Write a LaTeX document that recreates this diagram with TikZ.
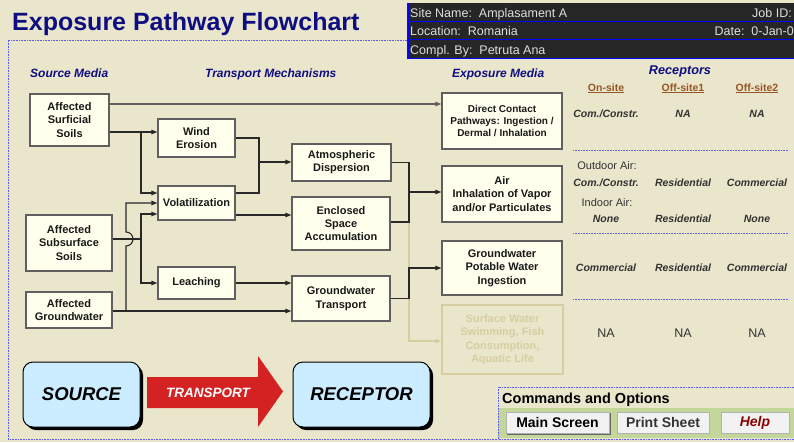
\documentclass[tikz,border=0pt]{standalone}
\usepackage{fontspec}
\setmainfont{Liberation Sans}
\usetikzlibrary{arrows.meta,calc}
\definecolor{bg}{RGB}{234,230,204}
\definecolor{navy}{RGB}{14,14,128}
\definecolor{boxfill}{RGB}{255,255,238}
\definecolor{boxline}{RGB}{95,95,95}
\definecolor{conn}{RGB}{40,40,40}
\definecolor{faint}{RGB}{214,206,160}
\definecolor{brownhd}{RGB}{150,85,35}
\definecolor{rectxt}{RGB}{50,50,50}
\definecolor{dotblue}{RGB}{90,90,255}
\definecolor{hdrdark}{RGB}{38,38,38}
\definecolor{hdrtxt}{RGB}{222,222,222}
\definecolor{lblue}{RGB}{204,236,255}
\definecolor{tred}{RGB}{212,34,34}
\definecolor{cmdgreen}{RGB}{196,215,155}
\definecolor{btnfill}{RGB}{242,242,242}
\definecolor{helpred}{RGB}{140,0,0}
\begin{document}
\begin{tikzpicture}[x=1pt,y=-1pt,
  box/.style={draw=boxline, line width=1.3pt, fill=boxfill, align=center, inner sep=0pt,
    font=\fontsize{11}{13.3}\selectfont\bfseries, text=black!90},
  fbox/.style={draw=faint, line width=1.1pt, align=center, inner sep=0pt,
    font=\fontsize{11}{13.3}\selectfont\bfseries, text=faint},
  ln/.style={draw=conn, line width=1.1pt},
  arr/.style={ln, -{Triangle[length=6pt,width=4.5pt]}},
  farr/.style={draw=faint, line width=1.1pt, -{Triangle[length=6pt,width=4.5pt]}},
  sechd/.style={text=navy, font=\fontsize{12}{14}\selectfont\bfseries\itshape, inner sep=0pt, anchor=base},
  colhd/.style={text=brownhd, font=\fontsize{10.5}{12}\selectfont\bfseries, inner sep=0pt, anchor=base},
  rec/.style={text=rectxt, font=\fontsize{10.5}{12}\selectfont\bfseries\itshape, inner sep=0pt, anchor=base},
  recl/.style={text=rectxt, font=\fontsize{11}{12}\selectfont, inner sep=0pt, anchor=base},
  hdr/.style={text=hdrtxt, font=\fontsize{12.5}{14}\selectfont, inner sep=0pt},
  dotline/.style={draw=dotblue, line width=0.8pt, dash pattern=on 0.8pt off 0.8pt},
  big/.style={draw=black, line width=1pt, fill=lblue, rounded corners=10pt},
  btn/.style={draw=gray!60, line width=0.8pt, fill=btnfill, inner sep=0pt},
]
\useasboundingbox (0,0) rectangle (794,442);
\fill[bg] (0,0) rectangle (794,442);

% frame
\draw[dotline] (407,40) -- (8,40) -- (8,439) -- (498,439);

% title
\node[text=navy, font=\fontsize{25}{28}\selectfont\bfseries, inner sep=0pt, anchor=base west] (title) at (12,30) {Exposure Pathway Flowchart};

% header
\fill[hdrdark] (407,3) rectangle (794,58);
\draw[blue, line width=1pt] (407,21) -- (794,21) (407,39.5) -- (794,39.5) (407,58) -- (794,58) (408,3) -- (408,58);
\node[hdr, anchor=base west] (h1) at (410,17) {Site Name:\ \ Amplasament A};
\node[hdr, anchor=base east] (h1r) at (792,17) {Job ID:};
\node[hdr, anchor=base west] (h2) at (410,35.5) {Location:\ \ Romania};
\node[hdr, anchor=base east] (h2r) at (794,35.5) {Date:\ \ 0-Jan-0};
\node[hdr, anchor=base west] (h3) at (410,54) {Compl. By:\ \ Petruta Ana};

% section headers
\node[sechd, anchor=base west] (s1) at (30,77) {Source Media};
\node[sechd, anchor=base west] (s2) at (205,77) {Transport Mechanisms};
\node[sechd, anchor=base west] (s3) at (452,77) {Exposure Media};
\node[sechd, font=\fontsize{12.7}{14}\selectfont\bfseries\itshape] (s4) at (680,74) {Receptors};

% receptor column headers
\node[colhd] (c1) at (606,91) {\underline{On-site}};
\node[colhd] (c2) at (683,91) {\underline{Off-site1}};
\node[colhd] (c3) at (757,91) {\underline{Off-site2}};

% receptor rows
\node[rec] (r11) at (606,117) {Com./Constr.};
\node[rec] (r12) at (683,117) {NA};
\node[rec] (r13) at (757,117) {NA};
\draw[dotline] (573,150) -- (788,150);
\node[recl] (oa) at (607,169) {Outdoor Air:};
\node[rec] (r21) at (606,186) {Com./Constr.};
\node[rec] (r22) at (683,186) {Residential};
\node[rec] (r23) at (757,186) {Commercial};
\node[recl] (ia) at (607,206) {Indoor Air:};
\node[rec] (r24) at (606,222) {None};
\node[rec] (r25) at (683,222) {Residential};
\node[rec] (r26) at (757,222) {None};
\draw[dotline] (573,233) -- (788,233);
\node[rec] (r31) at (606,271) {Commercial};
\node[rec] (r32) at (683,271) {Residential};
\node[rec] (r33) at (757,271) {Commercial};
\draw[dotline] (573,299) -- (788,299);
\node[recl, font=\fontsize{12.5}{14}\selectfont] (r41) at (606,337) {NA};
\node[recl, font=\fontsize{12.5}{14}\selectfont] (r42) at (683,337) {NA};
\node[recl, font=\fontsize{12.5}{14}\selectfont] (r43) at (757,337) {NA};

% boxes
\node[box, minimum width=79pt, minimum height=52pt] (ss) at (69.5,120) {Affected\\Surficial\\Soils};
\node[box, minimum width=86pt, minimum height=56pt] (sub) at (69,243) {Affected\\Subsurface\\Soils};
\node[box, minimum width=86pt, minimum height=36pt] (gw) at (69,310) {Affected\\Groundwater};
\node[box, minimum width=77pt, minimum height=38pt] (we) at (196.5,138) {Wind\\Erosion};
\node[box, minimum width=77pt, minimum height=34pt] (vol) at (196.5,203) {Volatilization};
\node[box, minimum width=77pt, minimum height=32pt] (lea) at (196.5,283) {Leaching};
\node[box, minimum width=99pt, minimum height=37pt] (atm) at (341.5,162.5) {Atmospheric\\Dispersion};
\node[box, minimum width=98pt, minimum height=53pt] (enc) at (341,223.5) {Enclosed\\Space\\Accumulation};
\node[box, minimum width=98pt, minimum height=45pt] (gwt) at (341,298.5) {Groundwater\\Transport};
\node[box, minimum width=120pt, minimum height=56pt, font=\fontsize{10}{12.2}\selectfont\bfseries] (dc) at (502,121) {Direct Contact\\Pathways: Ingestion /\\Dermal / Inhalation};
\node[box, minimum width=120pt, minimum height=56pt] (air) at (502,194) {Air\\Inhalation of Vapor\\and/or Particulates};
\node[box, minimum width=120pt, minimum height=54pt] (gwp) at (502,268) {Groundwater\\Potable Water\\Ingestion};
\node[fbox, minimum width=121pt, minimum height=69pt] (sw) at (502.5,339.5) {Surface Water\\Swimming, Fish\\Consumption,\\Aquatic Life};

% junction coordinates
\coordinate (ja) at (141,132);
\coordinate (jb) at (259,162);
\coordinate (jc) at (141,239);
\coordinate (jd) at (126,311);
\coordinate (je) at (409,192);
\coordinate (jg) at (409,222);

% connectors
\draw[farr] (jg) -- (409,341) -- (sw.west |- 0,341);
\draw[arr, draw=boxline, line width=1.4pt] (ss.east |- 0,104) -- (dc.west |- 0,104);
\draw[arr] (ss.east |- ja) -- (we.west |- ja);
\draw[arr] (ja) |- (vol.west |- 0,193);
\draw[ln] (we.east) -| (259,193) -- (vol.east |- 0,193);
\draw[arr] (jb) -- (atm.west |- jb);
\draw[arr] (vol.east |- 0,215) -- (enc.west |- 0,215);
\draw[ln] (sub.east |- jc) -- (jc);
\draw[arr] (jc) |- (vol.west |- 0,214);
\draw[arr] (jc) |- (lea.west);
\draw[arr] (gw.east |- jd) -- (gwt.west |- jd);
\draw[arr] (jd) -- (126,246) arc[start angle=-90, end angle=90, radius=7pt] -- (126,203) -- (vol.west |- 0,203);
\draw[arr] (lea.east) -- (gwt.west |- lea.east);
\draw[ln] (atm.east) -| (jg) -- (enc.east |- jg);
\draw[arr] (je) -- (air.west |- je);
\draw[arr] (gwt.east) -| (409,268) -- (gwp.west);

% bottom legend
\fill[black, rounded corners=10pt] (26,365) rectangle (143,430);
\node[big, minimum width=117pt, minimum height=65pt, font=\fontsize{18.5}{20}\selectfont\bfseries\itshape] (src) at (81.5,394.5) {SOURCE};
\fill[black, rounded corners=10pt] (296,365) rectangle (433,430);
\node[big, minimum width=137pt, minimum height=65pt, font=\fontsize{18.5}{20}\selectfont\bfseries\itshape] (rcp) at (361.5,394.5) {RECEPTOR};
\fill[tred] (147,377) -- (258,377) -- (258,356) -- (283,391.5) -- (258,427) -- (258,408) -- (147,408) -- cycle;
\node[text=white, font=\fontsize{13.5}{15}\selectfont\bfseries\itshape, inner sep=0pt] (tr) at (208,393) {TRANSPORT};

% commands panel
\fill[cmdgreen] (498,408) rectangle (794,438);
\draw[dotline] (794,387) -- (498,387) -- (498,439) -- (794,439);
\node[font=\fontsize{14.5}{16}\selectfont\bfseries, inner sep=0pt, anchor=base west] (cmd) at (502,403) {Commands and Options};
\draw[gray!80!black, line width=1pt] (507,434) -- (610,434) -- (610,413);
\node[btn, minimum width=103pt, minimum height=21pt, font=\fontsize{14}{16}\selectfont\bfseries] (b1) at (557.5,422.5) {Main Screen};
\node[btn, minimum width=92pt, minimum height=21pt, font=\fontsize{14}{16}\selectfont\bfseries, text=black!80] (b2) at (663,422.5) {Print Sheet};
\node[btn, minimum width=68pt, minimum height=21pt, font=\fontsize{14}{16}\selectfont\bfseries\itshape, text=helpred] (b3) at (755,422.5) {Help};
\end{tikzpicture}
\end{document}
